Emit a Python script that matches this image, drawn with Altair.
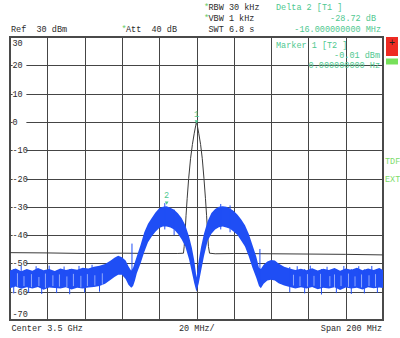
import altair as alt
import pandas as pd

# ---------------- data ----------------
# frequency offset from centre (MHz), blue trace upper / lower envelope (dBm)
freq = [-100, -97, -94, -91, -88, -85, -82, -79, -76, -73, -70, -67, -64, -61, -58, -55, -52, -49,
        -46, -44, -42, -40, -38, -36.5, -35, -34, -33, -32, -30, -28, -26, -24, -22, -20, -18, -16,
        -14, -12, -10, -8, -6, -4, -2.5, -1.2, 0, 1.2, 2.5, 4, 6, 8, 10, 12, 14, 16, 18, 20, 22, 24,
        26, 28, 30, 32, 33.5, 34.5, 36, 38, 40, 42, 44, 47, 50, 53, 56, 59, 62, 65, 68, 71, 74, 77,
        80, 83, 86, 89, 92, 95, 98, 100]
blue_hi = [-52.5, -51.8, -52.8, -52.0, -52.6, -51.6, -52.4, -52.0, -52.7, -51.8, -52.3, -51.9, -52.2,
           -51.5, -51.8, -51.2, -50.8, -50.2, -49.0, -48.0, -47.3, -47.8, -49.0, -51.0, -52.6, -51.5,
           -49.5, -47.5, -43.5, -39.0, -36.0, -34.0, -32.0, -30.5, -30.0, -29.8, -30.3, -31.0, -32.3,
           -34.0, -36.5, -40.5, -44.5, -49.0, -55.0, -49.0, -44.0, -39.5, -35.0, -32.2, -30.8, -30.0,
           -29.8, -30.0, -30.6, -31.5, -32.8, -34.5, -36.5, -39.5, -43.5, -47.5, -51.5, -52.0, -50.5,
           -49.3, -48.8, -49.0, -50.0, -51.2, -51.8, -52.3, -51.9, -52.4, -51.7, -52.5, -51.9, -52.3,
           -51.6, -52.6, -51.8, -52.2, -51.5, -52.4, -51.8, -52.3, -51.6, -52.3]
blue_lo = [-58.8, -58.2, -59.0, -58.4, -58.9, -58.3, -59.3, -58.5, -58.7, -58.9, -58.4, -59.2, -58.6,
           -58.9, -58.5, -58.3, -58.0, -57.2, -55.8, -54.8, -54.0, -54.0, -55.5, -57.5, -58.6, -58.0,
           -56.0, -53.5, -50.0, -46.0, -42.5, -40.5, -38.8, -37.5, -37.0, -37.0, -37.3, -38.0, -39.5,
           -41.5, -44.0, -48.5, -53.0, -57.0, -60.0, -57.0, -52.5, -47.5, -42.0, -39.5, -38.0, -37.2,
           -37.0, -37.3, -37.8, -38.8, -40.0, -42.0, -44.0, -47.5, -51.5, -55.0, -58.0, -58.8, -57.2,
           -56.0, -55.8, -56.0, -57.0, -57.8, -58.3, -58.9, -58.4, -58.9, -58.3, -59.1, -58.6, -58.9,
           -58.4, -59.4, -58.5, -58.9, -58.6, -59.2, -58.4, -58.8, -58.5, -58.7]

# black reference trace
black_f = [-100, -80, -60, -40, -20, -10, -7, -6.6, -6.2, -5.6, -5.0, -4.2, -3.2, -2.2, -1.2, -0.4, 0,
           0.4, 1.2, 2.2, 3.1, 4.0, 4.8, 5.4, 6.0, 6.4, 7, 10, 20, 40, 60, 80, 100]
black_db = [-46.2, -46.3, -46.5, -46.4, -46.5, -46.5, -46.4, -44, -40, -33, -27, -20, -13, -8, -4,
            -1.2, -0.01, -1.2, -4, -8, -13, -20, -27, -33, -40, -44, -46.4, -46.6, -46.5, -46.6,
            -46.7, -46.8, -47.0]

# isolated spikes on the blue trace (freq, top, bottom)
spike_f = [-34.6, 34.0, -98, -94, -90, -86, -83, -79, -75, -71, -68, -63, -60, -56, -52,
           50, 54, 58, 61, 67, 70, 75, 79, 83, 87, 90, 94, 97, -12, -17, 13, 18]
spike_top = [-43.0, -44.9, -52.0, -50.9, -52.5, -51.0, -52.3, -50.8, -52.6, -51.1, -52.0, -50.9,
             -51.8, -50.5, -51.0, -51.3, -51.0, -52.0, -50.8, -52.0, -51.2, -52.2, -50.9, -52.0,
             -51.0, -52.1, -50.9, -52.0, -31.0, -28.7, -29.0, -29.5]
spike_bot = [-56.0, -57.0, -60.6, -58.0, -60.4, -58.2, -60.8, -58.3, -60.5, -58.0, -60.9, -58.2,
             -60.3, -58.0, -60.0, -60.2, -58.0, -60.6, -58.0, -61.0, -58.0, -60.5, -58.1, -60.8,
             -58.2, -60.6, -58.0, -60.4, -40.0, -38.0, -38.0, -39.0]

# thin light gaps inside the noisy band (freq, top, bottom)
gap_f = [-96, -92.5, -88.5, -84.5, -81, -77, -73.5, -69.5, -66, -62, -58.5, -54.5, -50.5,
         52, 55.5, 59.5, 63, 66.5, 71.5, 74, 77.5, 81.5, 85, 88.5, 92.5, 96]
gap_top = [-53.5, -54.5, -53.8, -54.8, -53.6, -54.2, -53.9, -54.6, -53.7, -54.4, -53.8, -54.2, -53.5,
           -54.0, -54.6, -53.8, -54.4, -53.7, -54.5, -53.9, -54.3, -53.6, -54.6, -53.9, -54.2, -53.8]
gap_bot = [-58.2, -58.0, -58.4, -58.0, -58.6, -58.0, -58.2, -58.4, -58.0, -58.5, -58.0, -57.8, -57.5,
           -57.8, -58.0, -58.2, -57.9, -58.4, -58.1, -58.6, -58.0, -58.3, -58.1, -58.5, -58.0, -58.2]

# markers
marker_f = [0, -16]
marker_db = [-0.01, -28.73]
marker_lbl = ["1", "2"]

# axis grid / labels
y_ticks = [30, 20, 10, 0, -10, -20, -30, -40, -50, -60, -70]
y_grid = [20, 10, 0, -10, -20, -30, -40, -50, -60]
x_grid = [-80, -60, -40, -20, 0, 20, 40, 60, 80]

# ---------------- styling ----------------
FONT = "Liberation Mono"
FS = 8.5
DARK = "#2b2b2b"
GREEN = "#4fc890"
BLUE = "#1f4ef5"
GRID = "#454545"
NB = "\u00a0"

blue_df = pd.DataFrame({"f": freq, "hi": blue_hi, "lo": blue_lo})
black_df = pd.DataFrame({"f": black_f, "db": black_db})
spike_df = pd.DataFrame({"f": spike_f, "top": spike_top, "bot": spike_bot})
gap_df = pd.DataFrame({"f": gap_f, "top": gap_top, "bot": gap_bot})
mk_df = pd.DataFrame({"f": marker_f, "db": marker_db, "lbl": marker_lbl})
yl_df = pd.DataFrame({"v": y_ticks, "t": [str(v) for v in y_ticks]})

xs = alt.Scale(domain=[-100, 100], nice=False, zero=False)
ys = alt.Scale(domain=[-70, 30], nice=False, zero=False)

XAXIS = alt.Axis(values=x_grid, grid=True, labels=False, ticks=False, domain=False,
                 title=None, gridColor=GRID, gridWidth=1, gridOpacity=1)
YAXIS = alt.Axis(values=y_grid, grid=True, labels=False, ticks=False, domain=False,
                 title=None, gridColor=GRID, gridWidth=1, gridOpacity=1)


def X(field):
    return alt.X(field, type="quantitative", scale=xs, axis=XAXIS)


def Y(field):
    return alt.Y(field, type="quantitative", scale=ys, axis=YAXIS)


# white boxes behind y labels (grid interrupted by the label)
label_bg = alt.Chart(yl_df).transform_filter(
    alt.FieldOneOfPredicate(field="v", oneOf=y_grid)
).mark_point(
    shape="M -1 -0.55 L 1 -0.55 L 1 0.55 L -1 0.55 Z", filled=True, fill="white",
    opacity=1, strokeWidth=0, size=190
).encode(x=alt.value(9.5), y=Y("v"))


def ylabels(vals, dy):
    return alt.Chart(yl_df).transform_filter(
        alt.FieldOneOfPredicate(field="v", oneOf=vals)
    ).mark_text(font=FONT, fontSize=FS, color=DARK, align="left", baseline="middle", dy=dy
    ).encode(x=alt.value(2.5), y=Y("v"), text="t:N")


lab_mid = ylabels(y_grid, 0)
lab_top = ylabels([30], 6)
lab_bot = ylabels([-70], -6)

blue = alt.Chart(blue_df).mark_area(color=BLUE, opacity=1, interpolate="linear").encode(
    x=X("f"), y=Y("hi"), y2="lo:Q")

spikes = alt.Chart(spike_df).mark_rule(color=BLUE, strokeWidth=1).encode(
    x=X("f"), y=Y("top"), y2="bot:Q")

gaps = alt.Chart(gap_df).mark_rule(color="#cfdcff", strokeWidth=0.8, opacity=0.8).encode(
    x=X("f"), y=Y("top"), y2="bot:Q")

black = alt.Chart(black_df).mark_line(color="#3a3a3a", strokeWidth=1).encode(
    x=X("f"), y=Y("db"))

mk_sym = alt.Chart(mk_df).mark_point(shape="triangle-down", filled=True, color=GREEN, size=14,
                                     opacity=1).encode(x=X("f"), y=Y("db"))
mk_txt = alt.Chart(mk_df).mark_text(font=FONT, fontSize=FS, color=GREEN, dy=-8).encode(
    x=X("f"), y=Y("db"), text="lbl:N")


def txt(s, x, y, color=DARK, align="left", size=FS):
    return alt.Chart(pd.DataFrame({"s": [s]})).mark_text(
        font=FONT, fontSize=size, color=color, align=align, baseline="middle"
    ).encode(x=alt.value(x), y=alt.value(y), text="s:N")


def box(x1, x2, y1, y2, color):
    return alt.Chart(pd.DataFrame({"a": [0]})).mark_rect(color=color).encode(
        x=alt.value(x1), x2=alt.value(x2), y=alt.value(y1), y2=alt.value(y2))


annots = [
    txt("*", 194, -30, "#66cc66"), txt("RBW 30 kHz", 198.5, -30),
    txt("*", 194, -19, "#66cc66"), txt("VBW 1 kHz", 198.5, -19),
    txt("SWT 6.8 s", 198.5, -8),
    txt("Ref" + NB + NB + "30 dBm", 1, -8),
    txt("*", 111.5, -8, "#66cc66"), txt("Att" + NB + NB + "40 dB", 116, -8),
    txt("Delta 2 [T1 ]", 266, -30, GREEN),
    txt("-28.72 dB", 366, -19, GREEN, "right"),
    txt("-16.000000000 MHz", 371, -8, GREEN, "right"),
    txt("Marker 1 [T2 ]", 266, 8, GREEN),
    txt("-0.01 dBm", 370, 18, GREEN, "right"),
    txt("0.000000000 Hz", 370, 27.5, GREEN, "right"),
    txt("TDF", 375, 124, "#7ddc6a"), txt("EXT", 375, 142, "#7ddc6a"),
    box(376, 388, 0, 19, "#ee2a22"), txt("+", 382, 6, "#222222", "center", 10),
    box(376, 388, 21.5, 27.5, "#77e05a"),
    txt("Center 3.5 GHz", 1.5, 291), txt("20 MHz/", 169, 291),
    txt("Span 200 MHz", 372, 291, DARK, "right"),
]

chart = alt.layer(
    label_bg, lab_mid, lab_top, lab_bot, black, blue, gaps, spikes, mk_sym, mk_txt, *annots
).properties(
    width=373, height=283, autosize="none",
    padding={"left": 10, "top": 37, "right": 17, "bottom": 18},
    background="white",
).configure_view(stroke="#4a4a4a", strokeWidth=2)

chart.save("out.html", embed_options={"renderer": "svg", "actions": False})
